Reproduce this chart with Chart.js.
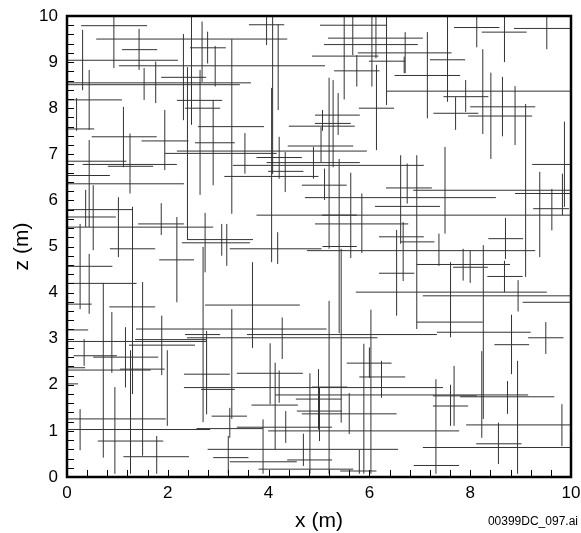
<!DOCTYPE html>
<html>
<head>
<meta charset="utf-8">
<script src="https://cdn.jsdelivr.net/npm/chart.js@4"></script>
<style>
	html, body { margin: 0; padding: 0; background: #fff; }
	#wrap { position: relative; width: 581px; height: 533px; }
	#note { position: absolute; right: 3px; top: 514px; font: 12px "Liberation Sans", Arial, sans-serif; color: #000; }
</style>
</head>
<body>
<div id="wrap">
	<canvas id="chart" width="581" height="533"></canvas>
	<div id="note">00399DC_097.ai</div>
</div>
<script>
// horizontal traces: [z, x from, x to] (m)
const horizontal = [
	[9.79, 0.28, 1.59], [9.50, 0.58, 4.37], [9.27, 1.09, 1.79], [9.31, 2.44, 3.15], [9.04, 0.02, 2.20],
	[8.92, 1.03, 5.12], [8.67, 1.87, 2.76], [8.55, 0, 3.65], [8.51, 0, 3.43], [8.18, 0.02, 1.09],
	[8.17, 2.18, 3.08], [8.00, 2.34, 3.04], [7.60, 2.60, 3.91], [7.55, 0.02, 0.54], [7.38, 0.49, 1.78],
	[7.29, 1.48, 2.41], [7.25, 2.54, 3.33], [7.07, 2.18, 5.95], [7.02, 1.94, 4.16], [6.85, 0, 1.18],
	[6.78, 0.31, 2.18], [6.74, 0.81, 1.71], [6.54, 0, 0.85], [6.52, 3.12, 4.99], [6.36, 0, 2.32],
	[5.80, 0, 1.30], [5.64, 0, 0.97], [5.49, 1.41, 2.32], [5.42, 0, 2.90], [5.15, 2.40, 3.69],
	[5.08, 2.28, 3.63], [9.81, 3.61, 4.31], [9.80, 5.02, 6.34], [9.52, 5.18, 7.06], [9.38, 5.10, 6.96],
	[9.20, 5.77, 7.63], [9.13, 4.86, 6.18], [9.02, 5.99, 6.71], [8.81, 5.30, 6.20], [8.71, 6.50, 7.80],
	[8.37, 6.35, 10], [8.00, 5.79, 6.49], [7.85, 4.92, 5.81], [7.67, 4.92, 5.63], [7.61, 4.40, 5.71],
	[9.75, 7.68, 8.58], [9.73, 8.87, 10], [9.65, 8.23, 9.12], [9.05, 7.20, 7.90], [8.25, 7.47, 8.36],
	[8.03, 8.00, 9.29], [7.89, 7.27, 8.16], [7.83, 7.96, 9.23], [7.18, 4.38, 5.68], [6.93, 3.76, 4.66],
	[6.82, 3.96, 5.81], [6.76, 3.29, 7.08], [6.63, 3.99, 4.69], [6.33, 4.66, 5.55], [6.27, 6.33, 7.24],
	[6.06, 4.72, 8.51], [5.87, 6.11, 7.40], [5.68, 3.76, 10], [5.68, 5.06, 5.75], [5.49, 4.92, 6.77],
	[5.21, 6.19, 7.08], [5.00, 5.07, 5.75], [4.95, 3.23, 5.05], [6.78, 9.23, 10], [6.22, 6.87, 10],
	[6.15, 8.89, 10], [5.82, 9.25, 9.96], [5.17, 8.36, 9.05], [5.10, 6.61, 7.29], [4.95, 0.85, 1.75],
	[4.71, 1.83, 2.52], [4.57, 0, 0.90], [4.20, 0, 1.38], [3.75, 0, 0.49], [3.73, 2.74, 4.62],
	[3.69, 0.84, 1.75], [3.21, 1.37, 5.15], [3.19, 0, 0.42], [3.09, 2.34, 3.04], [3.02, 2.38, 6.16],
	[3.09, 3.57, 7.34], [2.98, 1.35, 2.77], [2.94, 0, 2.77], [2.86, 1.23, 2.54], [2.63, 0.13, 0.99],
	[2.60, 0.52, 1.81], [4.91, 4.76, 9.29], [4.42, 6.19, 6.89], [4.01, 5.73, 9.52], [2.47, 5.55, 6.44],
	[4.61, 6.94, 8.79], [4.55, 7.66, 8.35], [4.35, 8.34, 9.04], [3.93, 7.06, 10], [3.79, 9.04, 10],
	[3.36, 6.94, 8.25], [3.14, 7.34, 9.20], [3.02, 9.15, 9.85], [2.87, 8.48, 9.17], [2.37, 0, 0.36],
	[2.32, 0, 1.66], [2.34, 1.05, 1.94], [2.23, 2.32, 3.23], [2.02, 0, 0.22], [1.94, 2.32, 7.46],
	[1.90, 2.66, 3.33], [1.32, 2.87, 3.57], [1.26, 0, 1.96], [1.03, 0, 2.84], [1.05, 2.57, 3.89],
	[0.78, 0.61, 1.91], [0.60, 2.79, 6.57], [0.44, 1.12, 2.42], [0.42, 2.90, 3.60], [2.25, 3.37, 4.68],
	[2.17, 5.80, 6.71], [1.95, 4.86, 5.56], [1.78, 4.13, 9.15], [1.76, 7.26, 8.13], [1.74, 7.80, 9.67],
	[1.69, 4.54, 5.45], [1.56, 3.66, 4.58], [1.43, 4.56, 5.45], [1.37, 4.66, 6.54], [1.08, 3.37, 5.26],
	[1.00, 3.99, 7.78], [0.37, 4.37, 5.26], [0.33, 3.23, 4.56], [0.17, 3.80, 5.68], [0.13, 5.42, 6.14],
	[1.54, 7.26, 7.96], [1.13, 7.92, 10], [0.72, 8.12, 9.02], [0.64, 7.06, 10], [0.25, 6.88, 7.78],
];

// vertical traces: [x, z from, z to] (m)
const vertical = [
	[0.93, 8.87, 10], [1.43, 8.83, 9.72], [2.47, 7.64, 10], [2.68, 8.57, 9.88], [2.79, 8.97, 9.66],
	[2.94, 8.47, 9.35], [3.27, 5.71, 9.50], [0.31, 8.39, 9.70], [0.44, 7.53, 8.83], [0.44, 5.42, 7.31],
	[1.53, 8.18, 8.87], [1.76, 8.11, 9.01], [2.31, 7.74, 9.61], [2.39, 5.14, 8.89], [2.64, 6.12, 8.83],
	[2.90, 6.33, 8.18], [1.12, 6.72, 8.03], [1.94, 6.66, 7.96], [0.19, 7.51, 8.22], [1.25, 6.15, 7.45],
	[0.52, 4.92, 6.33], [0.37, 5.42, 6.23], [0.26, 3.64, 5.49], [1.02, 4.77, 6.07], [1.30, 1.80, 5.86],
	[1.87, 5.25, 5.94], [2.18, 3.79, 5.64], [2.74, 4.44, 5.73], [3.07, 4.80, 5.49], [3.17, 4.58, 5.49],
	[3.96, 9.37, 10], [4.08, 6.57, 10], [4.19, 7.96, 9.82], [4.06, 4.66, 8.44], [5.50, 8.19, 10],
	[5.67, 9.15, 10], [5.75, 8.47, 9.15], [6.05, 8.47, 10], [6.13, 9.08, 10], [6.14, 7.09, 8.94],
	[6.34, 8.07, 9.98], [6.69, 8.76, 9.12], [5.20, 4.95, 8.66], [5.28, 6.72, 8.61], [5.38, 7.42, 8.33],
	[5.07, 7.51, 7.96], [4.21, 6.47, 7.38], [4.33, 6.18, 7.05], [3.53, 6.58, 7.46], [4.89, 6.47, 7.16],
	[5.04, 6.83, 7.59], [5.11, 6.01, 6.69], [5.40, 3.12, 6.90], [5.63, 4.75, 6.60], [5.85, 4.86, 6.15],
	[6.62, 5.06, 6.98], [6.54, 3.50, 5.36], [4.18, 4.62, 5.31], [7.55, 8.14, 10], [8.13, 9.32, 10],
	[8.68, 9.00, 10], [9.52, 9.28, 10], [6.71, 8.76, 9.65], [7.15, 7.78, 9.65], [7.91, 7.92, 8.61],
	[7.71, 7.53, 8.24], [8.25, 7.44, 9.28], [8.41, 6.90, 8.77], [8.64, 7.39, 8.68], [8.89, 7.20, 8.48],
	[9.10, 4.34, 8.09], [9.87, 5.86, 7.71], [9.83, 5.68, 6.58], [9.38, 4.77, 6.62], [9.62, 5.35, 6.25],
	[7.50, 5.28, 7.16], [6.75, 5.93, 6.80], [6.94, 3.21, 6.98], [8.70, 4.73, 5.62], [7.38, 4.58, 5.28],
	[6.67, 4.25, 5.53], [0.44, 3.54, 4.84], [0.72, 0.42, 4.21], [0.89, 2.26, 3.58], [1.16, 1.94, 3.25],
	[1.26, 0.07, 2.75], [1.50, 0.46, 4.23], [1.88, 2.21, 3.50], [2.70, 1.19, 4.99], [2.77, 1.36, 3.17],
	[0.34, 2.41, 2.99], [3.68, 2.80, 4.66], [3.27, 1.26, 3.64], [4.27, 2.56, 3.46], [4.03, 1.58, 2.90],
	[5.20, 0.07, 3.82], [5.44, 1.18, 4.95], [6.03, 0.07, 3.63], [5.89, 0.07, 2.89], [6.00, 2.15, 2.81],
	[6.24, 1.72, 2.52], [7.61, 3.03, 4.66], [7.86, 4.26, 4.95], [8.00, 4.21, 4.91], [8.26, 1.26, 5.03],
	[8.68, 4.01, 4.69], [8.95, 3.59, 4.27], [8.82, 2.23, 3.52], [9.50, 2.67, 3.36], [8.23, 0.85, 2.73],
	[8.94, 0.07, 2.52], [0.26, 0.58, 1.47], [0.95, 0.07, 1.95], [1.78, 0.07, 0.89], [1.99, 1.11, 2.75],
	[3.23, 0.85, 1.50], [3.20, 0.07, 0.89], [4.13, 0.60, 2.48], [4.21, 1.61, 2.31], [3.89, 0.07, 1.25],
	[4.34, 0.74, 1.43], [4.69, 0.24, 0.94], [4.82, 0.07, 2.25], [4.99, 1.03, 2.34], [5.01, 0.78, 1.94],
	[5.60, 0.93, 1.82], [5.80, 0.07, 0.59], [7.32, 0.07, 2.12], [7.61, 1.11, 2.00], [7.68, 1.11, 2.41],
	[8.56, 0.28, 1.18], [8.74, 1.37, 2.08], [9.82, 0.67, 1.58],
];

const xTickStep = 2;
const zTickStep = 1;
const xMinorStep = 0.4;
const zMinorStep = 0.2;

const traceStyle = {
	showLine: true,
	borderColor: "#333",
	borderWidth: 1,
	pointRadius: 0,
	pointHoverRadius: 0,
	fill: false,
};

const datasets = [
	...horizontal.map(([z, a, b]) => ({ ...traceStyle, data: [{ x: a, y: z }, { x: b, y: z }] })),
	...vertical.map(([x, a, b]) => ({ ...traceStyle, data: [{ x: x, y: a }, { x: x, y: b }] })),
];

// frame and inward minor ticks
const framePlugin = {
	id: "frame",
	afterDatasetsDraw(chart) {
		const { ctx, chartArea: a, scales } = chart;
		ctx.save();
		ctx.strokeStyle = "#000";
		ctx.lineWidth = 1;
		ctx.beginPath();
		for (let i = 1; i * xMinorStep < 10 - 1e-6; i++) {
			const px = Math.round(scales.x.getPixelForValue(i * xMinorStep)) + 0.5;
			ctx.moveTo(px, a.bottom);
			ctx.lineTo(px, a.bottom - 7);
		}
		for (let i = 1; i * zMinorStep < 10 - 1e-6; i++) {
			const py = Math.round(scales.y.getPixelForValue(i * zMinorStep)) + 0.5;
			ctx.moveTo(a.left, py);
			ctx.lineTo(a.left + 7, py);
		}
		ctx.stroke();
		ctx.lineWidth = 2.5;
		ctx.strokeRect(a.left, a.top, a.right - a.left, a.bottom - a.top);
		ctx.restore();
	},
};

const font = "'Liberation Sans', Arial, sans-serif";

new Chart(document.getElementById("chart"), {
	type: "scatter",
	data: { datasets },
	options: {
		responsive: false,
		animation: false,
		events: [],
		layout: { padding: { top: 16, right: 10, left: 0, bottom: 0 } },
		plugins: { legend: { display: false }, tooltip: { enabled: false } },
		scales: {
			x: {
				type: "linear",
				min: 0,
				max: 10,
				grid: { display: false, drawTicks: false },
				border: { display: false },
				ticks: { stepSize: xTickStep, padding: 6, color: "#000", font: { family: font, size: 17 } },
				title: { display: true, text: "x (m)", color: "#000", font: { family: font, size: 21, lineHeight: 1 }, padding: { top: 0, bottom: 1 } },
				afterFit: (s) => {
					s.height = 56;
					s.paddingLeft = 0;
					s.paddingRight = 0;
				},
			},
			y: {
				type: "linear",
				min: 0,
				max: 10,
				grid: { display: false, drawTicks: false },
				border: { display: false },
				ticks: { stepSize: zTickStep, padding: 9, color: "#000", font: { family: font, size: 17 } },
				title: { display: true, text: "z (m)", color: "#000", font: { family: font, size: 21, lineHeight: 1 }, padding: { top: 12, bottom: 0 } },
				afterFit: (s) => {
					s.width = 67;
					s.paddingTop = 0;
					s.paddingBottom = 0;
				},
			},
		},
	},
	plugins: [framePlugin],
});
</script>
</body>
</html>
